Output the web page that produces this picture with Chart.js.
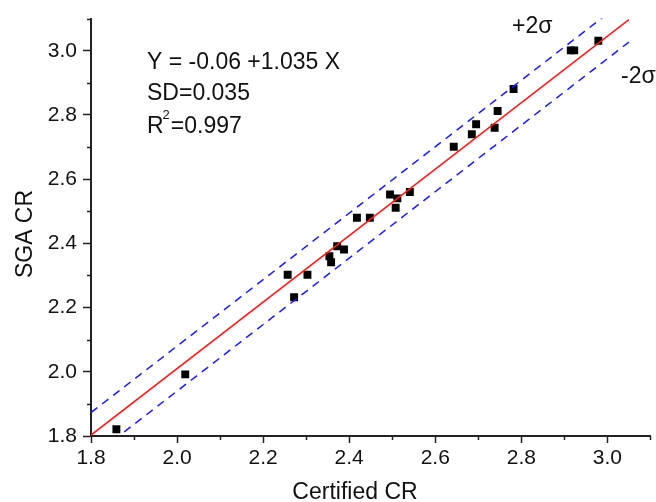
<!DOCTYPE html>
<html>
<head>
<meta charset="utf-8">
<script src="https://cdn.jsdelivr.net/npm/chart.js@4"></script>
<style>
  body { margin: 0; background: #fff; }
  #wrap { width: 656px; height: 502px; }
</style>
</head>
<body>
<div id="wrap"><canvas id="crChart" width="656" height="502"></canvas></div>
<script>
// Measured points
const certifiedCR = [1.859, 2.019, 2.257, 2.272, 2.303, 2.354, 2.358, 2.372, 2.388, 2.418, 2.448, 2.495,
  2.508, 2.512, 2.541, 2.643, 2.685, 2.695, 2.738, 2.745, 2.782, 2.915, 2.923, 2.979];
const sgaCR = [1.821, 1.992, 2.302, 2.232, 2.302, 2.360, 2.341, 2.391, 2.381, 2.480, 2.480, 2.552,
  2.511, 2.540, 2.560, 2.701, 2.740, 2.771, 2.760, 2.812, 2.881, 3.001, 3.001, 3.031];

// Fit: Y = a + b X, band = +/- 2 SD
const intercept = -0.06;
const slope = 1.035;
const sd = 0.035;
const fitRange = [1.8, 3.05];

const xTickLabels = ['1.8', '2.0', '2.2', '2.4', '2.6', '2.8', '3.0'];
const yTickLabels = ['1.8', '2.0', '2.2', '2.4', '2.6', '2.8', '3.0'];

const FONT = 'Arial, "Liberation Sans", sans-serif';

function fitLine(offset) {
    return fitRange.map(x => ({ x: x, y: intercept + slope * x + offset }));
}

const points = certifiedCR.map((x, i) => ({ x: x, y: sgaCR[i] }));

// Short minor ticks + text labels
const overlay = {
    id: 'overlay',
    afterDraw(chart) {
        const { ctx, scales: { x, y } } = chart;
        ctx.save();
        ctx.strokeStyle = '#222';
        ctx.lineWidth = 1.5;
        ctx.beginPath();
        x.ticks.forEach(t => {
            if (t.label !== '') return;
            const px = Math.round(x.getPixelForValue(t.value)) + 0.5;
            ctx.moveTo(px, x.top);
            ctx.lineTo(px, x.top + 4);
        });
        y.ticks.forEach(t => {
            if (t.label !== '') return;
            const py = Math.round(y.getPixelForValue(t.value)) + 0.5;
            ctx.moveTo(y.right, py);
            ctx.lineTo(y.right - 4, py);
        });
        ctx.stroke();

        ctx.fillStyle = '#111';
        ctx.textBaseline = 'alphabetic';
        ctx.textAlign = 'left';
        ctx.font = '23px ' + FONT;
        ctx.fillText('Y = -0.06 +1.035 X', 147, 69);
        ctx.fillText('SD=0.035', 147, 100);
        ctx.fillText('R', 147, 133);
        const rw = ctx.measureText('R').width;
        ctx.font = '13px ' + FONT;
        ctx.fillText('2', 147 + rw - 1, 119);
        const sw = ctx.measureText('2').width;
        ctx.font = '23px ' + FONT;
        ctx.fillText('=0.997', 147 + rw + sw, 133);

        ctx.fillText('+2σ', 512, 33);
        ctx.fillText('-2σ', 621, 83);

        // axis titles
        ctx.textAlign = 'center';
        ctx.fillText('Certified CR', 355, 499);
        ctx.translate(32, 234);
        ctx.rotate(-Math.PI / 2);
        ctx.fillText('SGA CR', 0, 0);
        ctx.restore();
    }
};

function axis(min, max, labels, tickLen, size) {
    return {
        type: 'linear',
        min: min,
        max: max,
        afterFit: s => {
            if (s.isHorizontal()) s.height = size; else s.width = size;
        },
        border: { display: true, color: '#222', width: 2 },
        grid: {
            drawOnChartArea: false,
            drawTicks: true,
            tickLength: tickLen,
            tickWidth: 1.5,
            tickColor: c => (c.tick && c.tick.label !== '') ? '#222' : 'rgba(0,0,0,0)'
        },
        ticks: {
            stepSize: 0.1,
            autoSkip: false,
            maxRotation: 0,
            color: '#111',
            font: { family: FONT, size: 21 },
            callback: v => {
                const s = v.toFixed(1);
                return labels.includes(s) ? s : '';
            }
        }
    };
}

const xAxis = axis(1.8, 3.1, xTickLabels, 7, 66);
xAxis.ticks.padding = 3;
const yAxis = axis(1.8, 3.1, yTickLabels, 8, 91);
yAxis.ticks.padding = 6;

new Chart(document.getElementById('crChart'), {
    type: 'scatter',
    data: {
        datasets: [
            {
                label: 'upper',
                type: 'line',
                data: fitLine(2 * sd),
                borderColor: '#1a1aff',
                borderWidth: 1.5,
                borderDash: [8, 6],
                pointRadius: 0,
                fill: false
            },
            {
                label: 'lower',
                type: 'line',
                data: fitLine(-2 * sd),
                borderColor: '#1a1aff',
                borderWidth: 1.5,
                borderDash: [8, 6],
                pointRadius: 0,
                fill: false
            },
            {
                label: 'fit',
                type: 'line',
                data: fitLine(0),
                borderColor: '#ff1a1a',
                borderWidth: 1.5,
                pointRadius: 0,
                fill: false
            },
            {
                label: 'samples',
                data: points,
                pointStyle: 'rect',
                pointRadius: 5.6,
                pointBorderWidth: 0,
                backgroundColor: '#000',
                borderColor: '#000'
            }
        ]
    },
    options: {
        responsive: false,
        animation: false,
        layout: { padding: { top: 18, right: 2, left: 0, bottom: 0 } },
        plugins: { legend: { display: false }, tooltip: { enabled: false } },
        scales: { x: xAxis, y: yAxis }
    },
    plugins: [overlay]
});
</script>
</body>
</html>
